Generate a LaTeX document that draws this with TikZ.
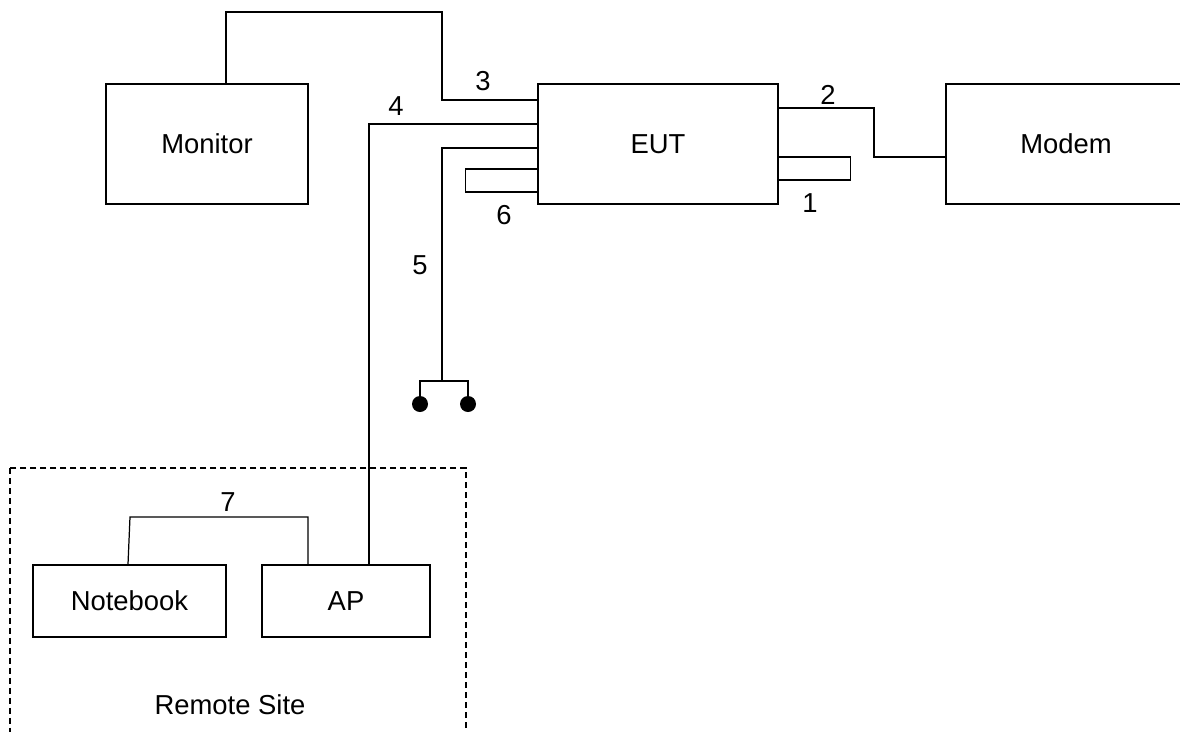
\documentclass[tikz,border=0pt]{standalone}
\usepackage{fontspec}
\setmainfont{Liberation Sans}
\usetikzlibrary{calc}

\tikzset{
  device/.style={draw, line width=0.7pt, inner sep=0pt, font=\fontsize{15.6}{18}\selectfont},
  cable/.style={line width=0.7pt},
  tag/.style={inner sep=0pt, font=\fontsize{15.6}{18}\selectfont},
  plug/.style={circle, fill=black, inner sep=0pt, minimum size=0.32cm}
}

\begin{document}
\begin{tikzpicture}[x=0.02cm, y=-0.02cm]
  \useasboundingbox (0,0) rectangle (1180,731);

  % Devices
  \node[device, minimum width=4.04cm, minimum height=2.4cm] (mon) at (207,144) {Monitor};
  \node[device, minimum width=4.8cm, minimum height=2.4cm] (eut) at (658,144) {EUT};
  \node[device, minimum width=4.8cm, minimum height=2.4cm] (mod) at (1066,144) {Modem};

  % Remote site
  \draw[line width=0.7pt, dash pattern=on 0.12cm off 0.08cm] (10,468) rectangle (466,760);
  \node[device, minimum width=3.86cm, minimum height=1.44cm] (nb) at (129.5,601) {Notebook};
  \node[device, minimum width=3.36cm, minimum height=1.44cm] (ap) at (346,601) {AP};
  \node[tag] (site) at (230,705) {Remote Site};

  % Cables
  \draw[cable] ($(mon.north)+(19,0)$) |- (442,12) |- ($(eut.west)+(0,-44)$);
  \draw[cable] ($(eut.west)+(0,-20)$) -| ($(ap.north)+(23,0)$);
  \coordinate (g5) at (442,381);
  \draw[cable] ($(eut.west)+(0,4)$) -| (g5);
  \draw[cable] ($(eut.west)+(0,25)$) -- ++(-72,0) -- ++(0,23) -- ($(eut.west)+(0,48)$);
  \draw[cable] ($(eut.east)+(0,-36)$) -| (874,157) -- ($(mod.west)+(0,13)$);
  \draw[cable] ($(eut.east)+(0,13)$) -- ++(72,0) -- ++(0,23) -- ($(eut.east)+(0,36)$);
  \draw[cable] ($(nb.north)+(-1.5,0)$) -- (130,517) -| ($(ap.north)+(-38,0)$);

  % Plug
  \foreach \d/\x in {L/420, R/468} {
    \node[plug] (dot\d) at (\x,404) {};
  }
  \draw[cable] (dotL.center) |- (g5) -| (dotR.center);

  % Cable numbers
  \node[tag] (n1) at (810,203) {1};
  \node[tag] (n2) at (828,95) {2};
  \node[tag] (n3) at (483,81) {3};
  \node[tag] (n4) at (396,106) {4};
  \node[tag] (n5) at (420,265) {5};
  \node[tag] (n6) at (504,215) {6};
  \node[tag] (n7) at (228,502) {7};
\end{tikzpicture}
\end{document}
